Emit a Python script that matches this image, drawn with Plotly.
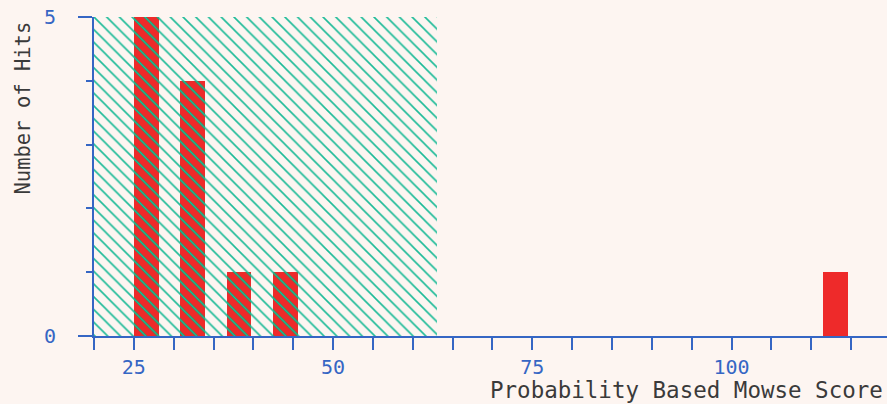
import plotly.graph_objects as go

# Data
score_bins = [26.6, 32.4, 38.2, 44.0, 113.0]
hit_counts = [5, 4, 1, 1, 1]
threshold_start = 20
threshold_end = 63
x_range = [20, 119.5]
y_range = [0, 5]

RED = "#EE2A2A"
TEAL = "#1DBB98"
BLUE = "#3566C4"
BG = "#FDF5F1"

fig = go.Figure()

inside = [x < threshold_end for x in score_bins]
# red bars inside the threshold region (with dark hatch)
fig.add_trace(go.Bar(
    x=[x for x, i in zip(score_bins, inside) if i],
    y=[y for y, i in zip(hit_counts, inside) if i],
    width=3.1,
    marker=dict(color=RED, line=dict(width=0),
                pattern=dict(shape="\\", size=9, solidity=0.22, fgcolor="#3A6A2C", bgcolor=RED,
                             fgopacity=1)),
    hoverinfo="skip",
))
# red bars outside region
fig.add_trace(go.Bar(
    x=[x for x, i in zip(score_bins, inside) if not i],
    y=[y for y, i in zip(hit_counts, inside) if not i],
    width=3.1,
    marker=dict(color=RED, line=dict(width=0)),
    hoverinfo="skip",
))
# hatched threshold region
fig.add_trace(go.Bar(
    x=[(threshold_start + threshold_end) / 2],
    y=[y_range[1]],
    width=threshold_end - threshold_start,
    marker=dict(color="rgba(0,0,0,0)", line=dict(width=0),
                pattern=dict(shape="\\", size=9, solidity=0.18, fgcolor=TEAL,
                             bgcolor="rgba(0,0,0,0)", fillmode="overlay", fgopacity=1)),
    hoverinfo="skip",
))

fig.update_layout(
    width=887, height=404,
    margin=dict(l=94, r=0, t=17, b=68),
    paper_bgcolor=BG, plot_bgcolor=BG,
    barmode="overlay",
    bargap=0,
    showlegend=False,
    font=dict(family="DejaVu Sans Mono", color=BLUE, size=20),
)

fig.update_xaxes(
    range=x_range, showgrid=False, zeroline=False,
    showline=True, linecolor=BLUE, linewidth=2,
    tick0=0, dtick=25, ticks="outside", ticklen=12, tickwidth=2, tickcolor=BLUE,
    minor=dict(dtick=5, tick0=0, ticks="outside", ticklen=12, tickwidth=2, tickcolor=BLUE),
    tickfont=dict(family="DejaVu Sans Mono", size=20, color=BLUE),
)
fig.update_yaxes(
    range=y_range, showgrid=False, zeroline=False,
    showline=True, linecolor=BLUE, linewidth=2,
    tick0=0, dtick=5, ticks="outside", ticklen=14, tickwidth=2, tickcolor=BLUE,
    minor=dict(dtick=1, tick0=0, ticks="outside", ticklen=6, tickwidth=2, tickcolor=BLUE),
    tickfont=dict(family="DejaVu Sans Mono", size=20, color=BLUE),
    ticklabelstandoff=18,
)

fig.add_annotation(
    text="Probability Based Mowse Score", xref="paper", yref="paper",
    x=(488 - 94) / 793, y=(336 - 390) / 319, xanchor="left", yanchor="middle",
    showarrow=False, font=dict(family="DejaVu Sans Mono", size=22.5, color="#3A3A3A"),
)
fig.add_annotation(
    text="Number of Hits", xref="paper", yref="paper", textangle=-90,
    x=(22 - 94) / 793, y=(336 - 20) / 319, xanchor="center", yanchor="top",
    showarrow=False, font=dict(family="DejaVu Sans Mono", size=20.5, color="#3A3A3A"),
)

fig.write_html(
    "out.html",
    config={"displayModeBar": False},
    post_script="document.body.style.margin='0';document.body.style.background='%s';" % BG,
)
